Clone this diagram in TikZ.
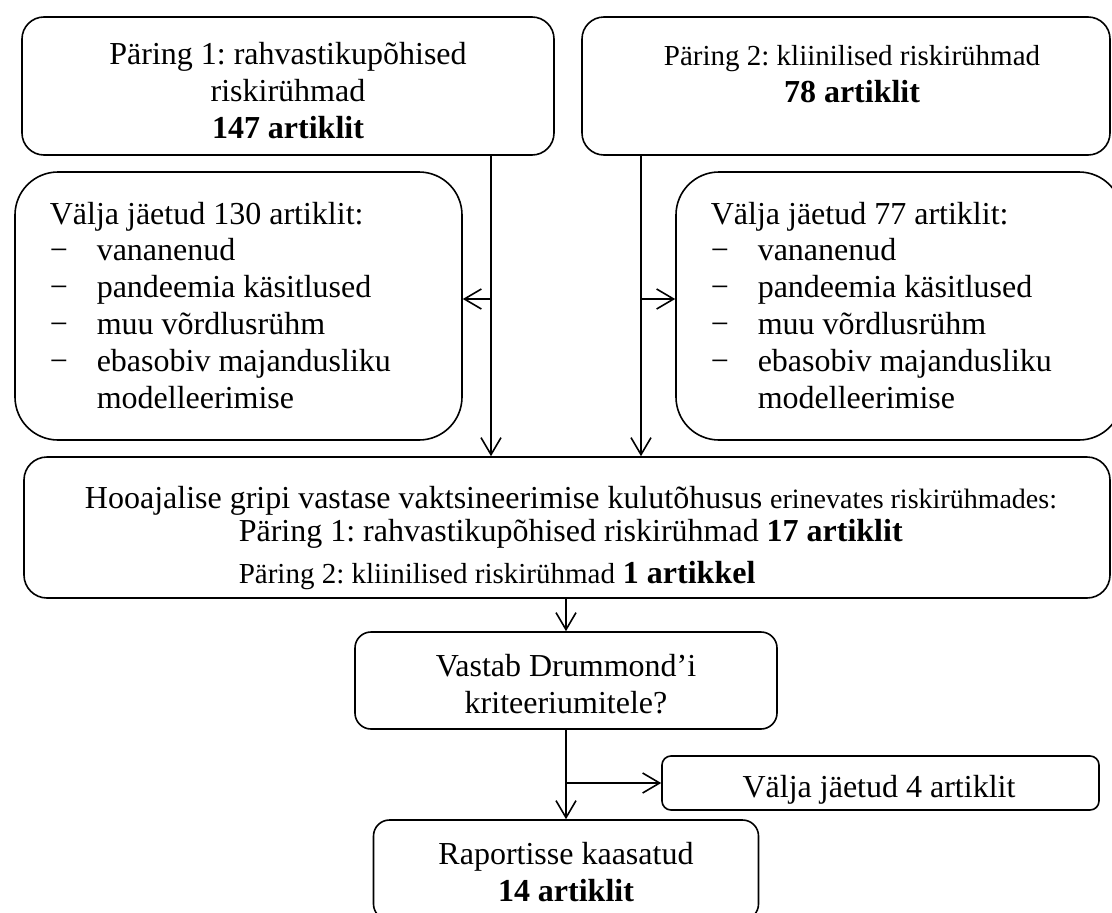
\documentclass[tikz,border=0pt]{standalone}
\usepackage{fontspec}
\setmainfont{Liberation Serif}
\usetikzlibrary{arrows.meta}
\frenchspacing
\newcommand{\punkt}{\makebox[47pt][l]{−}}

\begin{document}
\begin{tikzpicture}[x=1pt, y=-1pt, line width=1.6pt]
	% Stiilid
	\tikzset{
		kast/.style={draw, inner sep=0pt, rounded corners=#1},
		kast/.default=20pt,
		nool/.style={-{Straight Barb[length=17pt, width=20pt]}},
		tekst/.style={inner sep=0pt, align=center, font=\fontsize{32}{37}\selectfont},
		loend/.style={inner sep=0pt, align=left, anchor=north west, font=\fontsize{32}{36.8}\selectfont}
	}
	\useasboundingbox (0,0) rectangle (1112,913);
	\clip (0,0) rectangle (1112,913);
	
	% Kastid
	\node[kast=22pt, minimum width=532pt, minimum height=138pt] (p1) at (288,86) {};
	\node[kast=22pt, minimum width=528pt, minimum height=138pt] (p2) at (846,86) {};
	\node[kast=43pt, minimum width=447pt, minimum height=268pt] (v1) at (238.5,306) {};
	\node[kast=43pt, minimum width=446pt, minimum height=268pt] (v2) at (899,306) {};
	\node[kast=23pt, minimum width=1086pt, minimum height=141pt] (koik) at (567,527.5) {};
	\node[kast=16pt, minimum width=422pt, minimum height=97pt] (dr) at (566,680.5) {};
	\node[kast=9pt, minimum width=437pt, minimum height=54pt] (v3) at (880.5,783) {};
	\node[kast=16pt, minimum width=385pt, minimum height=100pt] (rap) at (566,870) {};
	
	% Tekstid
	\node[tekst, anchor=north] (p1t) at (288,41) {Päring 1: rahvastikupõhised\\riskirühmad\\\textbf{147 artiklit}};
	\node[tekst, anchor=north] (p2t) at (852,45) {{\fontsize{29}{37}\selectfont Päring 2: kliinilised riskirühmad}\\\textbf{78 artiklit}};
	\node[loend] (v1t) at (49,201) {Välja jäetud 130 artiklit:\\\punkt vananenud\\\punkt pandeemia käsitlused\\\punkt muu võrdlusrühm\\\punkt ebasobiv majandusliku\\\hspace*{47pt}modelleerimise};
	\node[loend] (v2t) at (710,201) {Välja jäetud 77 artiklit:\\\punkt vananenud\\\punkt pandeemia käsitlused\\\punkt muu võrdlusrühm\\\punkt ebasobiv majandusliku\\\hspace*{47pt}modelleerimise};
	\node[tekst, anchor=base] (k1) at (571,508) {Hooajalise gripi vastase vaktsineerimise kulutõhusus {\fontsize{28}{32}\selectfont erinevates riskirühmades:}};
	\node[tekst, anchor=base west] (k2) at (238,541) {Päring 1: rahvastikupõhised riskirühmad \textbf{17 artiklit}};
	\node[tekst, anchor=base west] (k3) at (238,583) {{\fontsize{29}{32}\selectfont Päring 2: kliinilised riskirühmad} \textbf{1 artikkel}};
	\node[tekst, anchor=north] (drt) at (566,653) {Vastab Drummond’i\\kriteeriumitele?};
	\node[tekst, anchor=base] (v3t) at (879,797) {Välja jäetud 4 artiklit};
	\node[tekst, anchor=north] (rapt) at (566,841) {Raportisse kaasatud\\\textbf{14 artiklit}};
	
	% Nooled
	\coordinate (xv) at (491,0);
	\coordinate (xp) at (641,0);
	\coordinate (yh) at (0,299);
	\draw[nool] (p1.south -| xv) -- (koik.north -| xv);
	\draw[nool] (p2.south -| xp) -- (koik.north -| xp);
	\draw[nool] (xv |- yh) -- (v1.east |- yh);
	\draw[nool] (xp |- yh) -- (v2.west |- yh);
	\draw[nool] (koik.south -| dr.north) -- (dr.north);
	\draw[nool] (dr.south) -- (rap.north);
	\draw[nool] (dr.south |- v3.west) -- (v3.west);
\end{tikzpicture}
\end{document}
